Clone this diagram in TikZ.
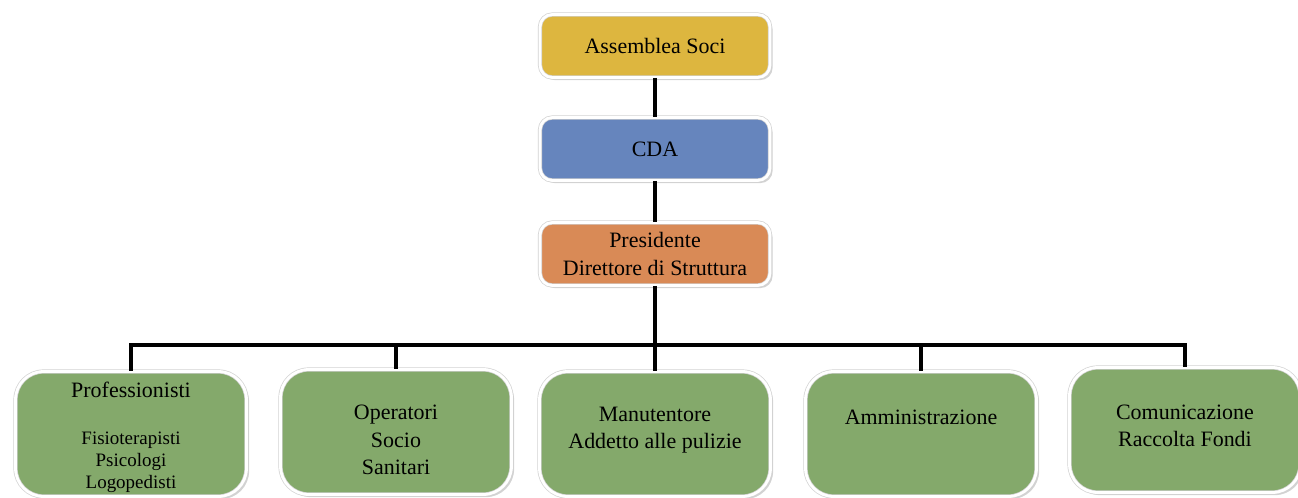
\documentclass[tikz,border=0pt]{standalone}
\usepackage{fontspec}
\setmainfont{Liberation Serif}
\usetikzlibrary{shadows}
\definecolor{soci}{HTML}{DDB63F}
\definecolor{cda}{HTML}{6685BD}
\definecolor{pres}{HTML}{D98A56}
\definecolor{staff}{HTML}{84A96B}
\newcommand\subfont{\fontsize{10.8}{12.5}\selectfont}
\tikzset{
  box/.style={draw=gray!35, double=white, double distance=1.6pt, rounded corners=7pt,
    minimum width=4.6cm, minimum height=1.26cm, align=center,
    font=\fontsize{12.5}{15.5}\selectfont,
    drop shadow={shadow xshift=1.5pt, shadow yshift=-1.5pt, opacity=0.35}},
  unit/.style={box, fill=staff, rounded corners=16pt, minimum width=4.62cm, minimum height=2.5cm},
  caption/.style={align=center, font=\fontsize{12.5}{15.5}\selectfont},
  link/.style={line width=2.2pt}
}
\begin{document}
\begin{tikzpicture}[x=0.02cm,y=-0.02cm]
\useasboundingbox (0,0) rectangle (1298,497);
\node[box,fill=soci] (assemblea) at (655,46) {Assemblea Soci};
\node[box,fill=cda] (cda) at (655,149) {CDA};
\node[box,fill=pres] (presidente) at (655,254) {Presidente\\Direttore di Struttura};
\coordinate (bus) at (655,345);
\draw[link] (assemblea) -- (cda);
\draw[link] (cda) -- (presidente);
\draw[link] (presidente) -- (bus);
% staff boxes: name / x / y / text y / text
\foreach \u/\x/\y/\ty/\txt in {
  prof/131/434/437/{Professionisti\\[11.5pt]\subfont Fisioterapisti\\[-3pt]\subfont Psicologi\\[-3pt]\subfont Logopedisti},
  oper/396/432/440/{Operatori\\Socio\\Sanitari},
  manut/655/434/430/{Manutentore\\Addetto alle pulizie},
  ammin/921/434/417/{Amministrazione},
  comun/1185/430/426/{Comunicazione\\Raccolta Fondi}}{
  \node[unit] (\u) at (\x,\y) {};
  \node[caption] (\u-txt) at (\x,\ty) {\txt};
  \draw[link] (bus) -| (\u.north);
}
\end{tikzpicture}
\end{document}
